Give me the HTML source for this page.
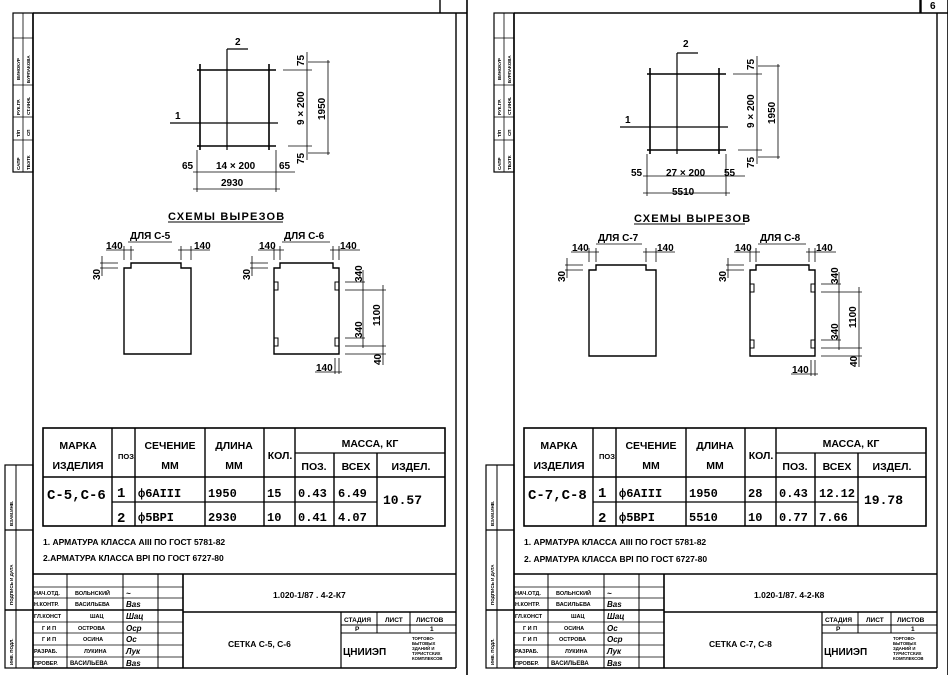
<!DOCTYPE html>
<html><head><meta charset="utf-8"><style>
html,body{margin:0;padding:0;background:#fff;width:948px;height:675px;overflow:hidden}
svg{display:block}
text{font-family:"Liberation Sans","DejaVu Sans",sans-serif;fill:#000;font-weight:bold}
.m{font-family:"Liberation Mono","DejaVu Sans Mono",monospace}
</style></head><body>
<svg width="948" height="675" viewBox="0 0 948 675" xmlns="http://www.w3.org/2000/svg">
<defs>
<g id="frame" stroke="#000" fill="none">
  <line x1="33" y1="13" x2="467" y2="13" stroke-width="1.6"/>
  <line x1="33" y1="13" x2="33" y2="668" stroke-width="1.6"/>
  <line x1="440" y1="0" x2="440" y2="13" stroke-width="1.4"/>
  <line x1="456" y1="13" x2="456" y2="668" stroke-width="1.4"/>
  <line x1="467" y1="0" x2="467" y2="675" stroke-width="1.6"/>
  <line x1="33" y1="668" x2="456" y2="668" stroke-width="1.4"/>
  <!-- top-left stamp -->
  <rect x="13" y="13" width="20" height="159" stroke-width="1.2"/>
  <line x1="23" y1="13" x2="23" y2="172" stroke-width="0.8"/>
  <line x1="13" y1="38" x2="33" y2="38" stroke-width="0.8"/>
  <line x1="13" y1="85" x2="33" y2="85" stroke-width="0.8"/>
  <line x1="13" y1="117" x2="33" y2="117" stroke-width="0.8"/>
  <line x1="13" y1="140" x2="33" y2="140" stroke-width="0.8"/>
  <!-- bottom-left strip -->
  <rect x="5" y="465" width="28" height="203" stroke-width="1.2"/>
  <line x1="16" y1="465" x2="16" y2="668" stroke-width="1"/>
  <line x1="5" y1="530" x2="33" y2="530" stroke-width="1.2"/>
  <line x1="5" y1="610" x2="183" y2="610" stroke-width="1.4"/>
  <!-- table -->
  <rect x="43" y="428" width="402" height="98" stroke-width="1.6"/>
  <line x1="43" y1="477" x2="445" y2="477" stroke-width="1.4"/>
  <line x1="112" y1="502" x2="377" y2="502" stroke-width="1.2"/>
  <line x1="295" y1="453" x2="445" y2="453" stroke-width="1.2"/>
  <line x1="112" y1="428" x2="112" y2="526" stroke-width="1.4"/>
  <line x1="135" y1="428" x2="135" y2="526" stroke-width="1.4"/>
  <line x1="205" y1="428" x2="205" y2="526" stroke-width="1.4"/>
  <line x1="264" y1="428" x2="264" y2="526" stroke-width="1.4"/>
  <line x1="295" y1="428" x2="295" y2="526" stroke-width="1.4"/>
  <line x1="334" y1="453" x2="334" y2="526" stroke-width="1.4"/>
  <line x1="377" y1="453" x2="377" y2="526" stroke-width="1.4"/>
  <!-- title block -->
  <line x1="33" y1="574" x2="456" y2="574" stroke-width="1.6"/>
  <line x1="183" y1="574" x2="183" y2="668" stroke-width="1.6"/>
  <line x1="67" y1="574" x2="67" y2="668" stroke-width="1"/>
  <line x1="123" y1="574" x2="123" y2="668" stroke-width="1"/>
  <line x1="158" y1="574" x2="158" y2="668" stroke-width="1"/>
  <g stroke-width="0.8">
  <line x1="33" y1="587" x2="183" y2="587"/>
  <line x1="33" y1="598" x2="183" y2="598"/>
  <line x1="33" y1="622" x2="183" y2="622"/>
  <line x1="33" y1="633" x2="183" y2="633"/>
  <line x1="33" y1="645" x2="183" y2="645"/>
  <line x1="33" y1="657" x2="183" y2="657"/>
  </g>
  <line x1="183" y1="612" x2="456" y2="612" stroke-width="1.4"/>
  <line x1="341" y1="612" x2="341" y2="668" stroke-width="1.2"/>
  <line x1="341" y1="625" x2="456" y2="625" stroke-width="1"/>
  <line x1="341" y1="633" x2="456" y2="633" stroke-width="1"/>
  <line x1="377" y1="612" x2="377" y2="633" stroke-width="1"/>
  <line x1="410" y1="612" x2="410" y2="633" stroke-width="1"/>
</g>
<g id="ftext">
  <g font-size="4.5">
  <text transform="translate(20,170) rotate(-90)">САПР</text>
  <text transform="translate(30,170) rotate(-90)">ТБЭТК</text>
  <text transform="translate(20,137) rotate(-90)">Т/П</text>
  <text transform="translate(30,136) rotate(-90)">СП</text>
  <text transform="translate(20,115) rotate(-90)">РУК.ГР.</text>
  <text transform="translate(30,115) rotate(-90)">СТ.ИНЖ.</text>
  <text transform="translate(20,80) rotate(-90)">ВИНОКУР</text>
  <text transform="translate(30,83) rotate(-90)">БУРЛАКОВА</text>
  <text transform="translate(13,526) rotate(-90)">ВЗАМ.ИНВ.</text>
  <text transform="translate(13,605) rotate(-90)">ПОДПИСЬ И ДАТА</text>
  <text transform="translate(13,665) rotate(-90)">ИНВ. ПОДЛ.</text>
  </g>
  <g font-size="10.5" text-anchor="middle">
  <text x="78" y="449">МАРКА</text>
  <text x="78" y="469">ИЗДЕЛИЯ</text>
  <text x="170" y="449">СЕЧЕНИЕ</text>
  <text x="170" y="469">ММ</text>
  <text x="234" y="449">ДЛИНА</text>
  <text x="234" y="469">ММ</text>
  <text x="280" y="459">КОЛ.</text>
  <text x="370" y="447">МАССА, КГ</text>
  <text x="314" y="470">ПОЗ.</text>
  <text x="356" y="470">ВСЕХ</text>
  <text x="411" y="470">ИЗДЕЛ.</text>
  </g>
  <text x="118" y="459" font-size="7.5">ПОЗ.</text>
  <g font-size="5.5">
  <text x="34" y="595">НАЧ.ОТД.</text>
  <text x="34" y="606">Н.КОНТР.</text>
  <text x="34" y="618">ГЛ.КОНСТ</text>
  <text x="42" y="630">Г И П</text>
  <text x="42" y="641">Г И П</text>
  <text x="34" y="653">РАЗРАБ.</text>
  <text x="34" y="665">ПРОВЕР.</text>
  <text x="344" y="622" font-size="6.5">СТАДИЯ</text>
  <text x="385" y="622" font-size="6.5">ЛИСТ</text>
  <text x="416" y="622" font-size="6.5">ЛИСТОВ</text>
  <text x="355" y="631" font-size="6.5">Р</text>
  <text x="430" y="631" font-size="6.5">1</text>
  <text x="412" y="640" font-size="4.3">ТОРГОВО-</text>
  <text x="412" y="645" font-size="4.3">БЫТОВЫХ</text>
  <text x="412" y="650" font-size="4.3">ЗДАНИЙ И</text>
  <text x="412" y="655" font-size="4.3">ТУРИСТСКИХ</text>
  <text x="412" y="660" font-size="4.3">КОМПЛЕКСОВ</text>
  </g>
  <text x="343" y="655" font-size="10" font-weight="normal">ЦНИИЭП</text>
</g>
<g id="mesh" stroke="#000" fill="none" stroke-width="1.2">
  <line x1="197" y1="70" x2="276" y2="70" stroke-width="1.6"/>
  <line x1="197" y1="146" x2="276" y2="146" stroke-width="1.6"/>
  <line x1="170" y1="123" x2="278" y2="123"/>
  <line x1="200" y1="64" x2="200" y2="150" stroke-width="1.6"/>
  <line x1="269" y1="64" x2="269" y2="150" stroke-width="1.6"/>
  <line x1="227" y1="49" x2="227" y2="150"/>
  <line x1="227" y1="49" x2="248" y2="49"/>
  <g stroke-width="0.8">
  <line x1="283" y1="70" x2="312" y2="70"/>
  <line x1="288" y1="146" x2="312" y2="146"/>
  <line x1="307" y1="52" x2="307" y2="160"/>
  <line x1="308" y1="62" x2="330" y2="62"/>
  <line x1="308" y1="153" x2="330" y2="153"/>
  <line x1="328" y1="60" x2="328" y2="155"/>
  <line x1="193" y1="172" x2="295" y2="172"/>
  <line x1="193" y1="189" x2="280" y2="189"/>
  <line x1="197" y1="150" x2="197" y2="192"/>
  <line x1="276" y1="150" x2="276" y2="192"/>
  </g>
</g>
<g id="cut" stroke="#000" fill="none" stroke-width="1.4">
  <path d="M124,268 L131,268 L131,263 L181,263 L181,268 L191,268 L191,354 L124,354 Z"/>
  <g stroke-width="0.8">
  <line x1="124" y1="246" x2="124" y2="260"/>
  <line x1="131" y1="246" x2="131" y2="260"/>
  <line x1="181" y1="246" x2="181" y2="260"/>
  <line x1="191" y1="246" x2="191" y2="260"/>
  <line x1="106" y1="250" x2="134" y2="250"/>
  <line x1="178" y1="250" x2="210" y2="250"/>
  <line x1="100" y1="263" x2="118" y2="263"/>
  <line x1="100" y1="268" x2="118" y2="268"/>
  <line x1="102" y1="256" x2="102" y2="276"/>
  </g>
</g>
<g id="cut2" stroke="#000" fill="none" stroke-width="1.4">
  <path d="M274,268 L280,268 L280,263 L333,263 L333,268 L339,268 L339,354 L274,354 Z"/>
  <rect x="274" y="282" width="4" height="8" stroke-width="1"/>
  <rect x="335" y="282" width="4" height="8" stroke-width="1"/>
  <rect x="274" y="338" width="4" height="8" stroke-width="1"/>
  <rect x="335" y="338" width="4" height="8" stroke-width="1"/>
  <g stroke-width="0.8">
  <line x1="274" y1="246" x2="274" y2="260"/>
  <line x1="280" y1="246" x2="280" y2="260"/>
  <line x1="333" y1="246" x2="333" y2="260"/>
  <line x1="339" y1="246" x2="339" y2="260"/>
  <line x1="258" y1="250" x2="284" y2="250"/>
  <line x1="330" y1="250" x2="360" y2="250"/>
  <line x1="250" y1="263" x2="268" y2="263"/>
  <line x1="250" y1="268" x2="268" y2="268"/>
  <line x1="252" y1="256" x2="252" y2="276"/>
  <line x1="345" y1="282" x2="365" y2="282"/>
  <line x1="345" y1="290" x2="386" y2="290"/>
  <line x1="345" y1="338" x2="365" y2="338"/>
  <line x1="345" y1="346" x2="386" y2="346"/>
  <line x1="345" y1="354" x2="386" y2="354"/>
  <line x1="363" y1="270" x2="363" y2="348"/>
  <line x1="383" y1="285" x2="383" y2="365"/>
  <line x1="335" y1="358" x2="335" y2="374"/>
  <line x1="339" y1="358" x2="339" y2="374"/>
  <line x1="315" y1="372" x2="342" y2="372"/>
  </g>
</g>
</defs>

<!-- LEFT SHEET -->
<use href="#frame"/>
<use href="#ftext"/>
<use href="#mesh"/>
<use href="#cut"/>
<use href="#cut2"/>
<g font-size="10">
<text x="175" y="119">1</text>
<text x="235" y="45">2</text>
<text transform="translate(304,66) rotate(-90)">75</text>
<text transform="translate(304,125) rotate(-90)">9 × 200</text>
<text transform="translate(325,120) rotate(-90)">1950</text>
<text transform="translate(304,164) rotate(-90)">75</text>
<text x="182" y="169">65</text>
<text x="216" y="169">14 × 200</text>
<text x="279" y="169">65</text>
<text x="221" y="186">2930</text>
<text x="168" y="220" font-size="11" letter-spacing="1.2">СХЕМЫ  ВЫРЕЗОВ</text>
<text x="130" y="239">ДЛЯ С-5</text>
<text x="106" y="249">140</text>
<text x="194" y="249">140</text>
<text transform="translate(100,280) rotate(-90)">30</text>
<text x="284" y="239">ДЛЯ С-6</text>
<text x="259" y="249">140</text>
<text x="340" y="249">140</text>
<text transform="translate(250,280) rotate(-90)">30</text>
<text transform="translate(362,282) rotate(-90)">340</text>
<text transform="translate(380,326) rotate(-90)">1100</text>
<text transform="translate(362,338) rotate(-90)">340</text>
<text transform="translate(381,365) rotate(-90)">40</text>
<text x="316" y="371">140</text>
</g>
<line x1="168" y1="222" x2="283" y2="222" stroke="#000" stroke-width="1"/>
<line x1="128" y1="242" x2="172" y2="242" stroke="#000" stroke-width="0.8"/>
<line x1="282" y1="242" x2="330" y2="242" stroke="#000" stroke-width="0.8"/>
<g class="m" font-size="12">
<text x="47" y="499" class="m" font-size="14">С-5,С-6</text>
<text x="117" y="497" class="m" font-size="14">1</text>
<text x="117" y="522" class="m" font-size="14">2</text>
<text x="138" y="497" class="m">ф6AIII</text>
<text x="138" y="521" class="m">ф5ВРI</text>
<text x="208" y="497" class="m">1950</text>
<text x="208" y="521" class="m">2930</text>
<text x="267" y="497" class="m">15</text>
<text x="267" y="521" class="m">10</text>
<text x="298" y="497" class="m">0.43</text>
<text x="298" y="521" class="m">0.41</text>
<text x="338" y="497" class="m">6.49</text>
<text x="338" y="521" class="m">4.07</text>
<text x="383" y="504" class="m" font-size="13">10.57</text>
</g>
<g font-size="8.5">
<text x="43" y="545">1. АРМАТУРА КЛАССА АIII  ПО ГОСТ 5781-82</text>
<text x="43" y="561">2.АРМАТУРА КЛАССА ВРI  ПО ГОСТ 6727-80</text>
<text x="273" y="598">1.020-1/87 . 4-2-К7</text>
<text x="228" y="647">СЕТКА С-5, С-6</text>
</g>
<g font-size="5.5">
<text x="75" y="595">ВОЛЬНСКИЙ</text>
<text x="75" y="606">ВАСИЛЬЕВА</text>
<text x="90" y="618">ШАЦ</text>
<text x="78" y="630">ОСТРОВА</text>
<text x="83" y="641">ОСИНА</text>
<text x="84" y="653">ЛУКИНА</text>
<text x="70" y="665" font-size="6">ВАСИЛЬЕВА</text>
</g>
<g font-family="Liberation Serif" font-style="italic" font-size="8" font-weight="normal">
<text x="126" y="596">~</text><text x="126" y="607">Bas</text><text x="126" y="619">Шац</text>
<text x="126" y="631">Оср</text><text x="126" y="642">Ос</text><text x="126" y="654">Лук</text><text x="126" y="666">Bas</text>
</g>

<!-- RIGHT SHEET -->
<g transform="translate(481,0)">
<use href="#frame"/>
<use href="#ftext"/>
</g>
<line x1="920" y1="0" x2="920" y2="13" stroke="#000" stroke-width="1.4"/>
<text x="930" y="9" font-size="10">6</text>
<g transform="translate(450,4)"><use href="#mesh"/></g>
<g transform="translate(465,2)"><use href="#cut"/></g>
<g transform="translate(476,2)"><use href="#cut2"/></g>
<g font-size="10">
<text x="625" y="123">1</text>
<text x="683" y="47">2</text>
<text transform="translate(754,70) rotate(-90)">75</text>
<text transform="translate(754,128) rotate(-90)">9 × 200</text>
<text transform="translate(775,124) rotate(-90)">1950</text>
<text transform="translate(754,168) rotate(-90)">75</text>
<text x="631" y="176">55</text>
<text x="666" y="176">27 × 200</text>
<text x="724" y="176">55</text>
<text x="672" y="195">5510</text>
<text x="634" y="222" font-size="11" letter-spacing="1.2">СХЕМЫ  ВЫРЕЗОВ</text>
<text x="598" y="241">ДЛЯ С-7</text>
<text x="572" y="251">140</text>
<text x="657" y="251">140</text>
<text transform="translate(565,282) rotate(-90)">30</text>
<text x="760" y="241">ДЛЯ С-8</text>
<text x="735" y="251">140</text>
<text x="816" y="251">140</text>
<text transform="translate(726,282) rotate(-90)">30</text>
<text transform="translate(838,284) rotate(-90)">340</text>
<text transform="translate(856,328) rotate(-90)">1100</text>
<text transform="translate(838,340) rotate(-90)">340</text>
<text transform="translate(857,367) rotate(-90)">40</text>
<text x="792" y="373">140</text>
</g>
<line x1="634" y1="224" x2="745" y2="224" stroke="#000" stroke-width="1"/>
<line x1="596" y1="244" x2="642" y2="244" stroke="#000" stroke-width="0.8"/>
<line x1="758" y1="244" x2="806" y2="244" stroke="#000" stroke-width="0.8"/>
<g class="m" font-size="12">
<text x="528" y="499" class="m" font-size="14">С-7,С-8</text>
<text x="598" y="497" class="m" font-size="14">1</text>
<text x="598" y="522" class="m" font-size="14">2</text>
<text x="619" y="497" class="m">ф6AIII</text>
<text x="619" y="521" class="m">ф5ВРI</text>
<text x="689" y="497" class="m">1950</text>
<text x="689" y="521" class="m">5510</text>
<text x="748" y="497" class="m">28</text>
<text x="748" y="521" class="m">10</text>
<text x="779" y="497" class="m">0.43</text>
<text x="779" y="521" class="m">0.77</text>
<text x="819" y="497" class="m">12.12</text>
<text x="819" y="521" class="m">7.66</text>
<text x="864" y="504" class="m" font-size="13">19.78</text>
</g>
<g font-size="8.5">
<text x="524" y="545">1. АРМАТУРА КЛАССА АIII  ПО ГОСТ 5781-82</text>
<text x="524" y="562">2. АРМАТУРА КЛАССА ВРI  ПО ГОСТ 6727-80</text>
<text x="754" y="598">1.020-1/87. 4-2-К8</text>
<text x="709" y="647">СЕТКА С-7, С-8</text>
</g>
<g font-size="5.5">
<text x="556" y="595">ВОЛЬНСКИЙ</text>
<text x="556" y="606">ВАСИЛЬЕВА</text>
<text x="571" y="618">ШАЦ</text>
<text x="564" y="630">ОСИНА</text>
<text x="559" y="641">ОСТРОВА</text>
<text x="565" y="653">ЛУКИНА</text>
<text x="551" y="665" font-size="6">ВАСИЛЬЕВА</text>
</g>
<g font-family="Liberation Serif" font-style="italic" font-size="8" font-weight="normal">
<text x="607" y="596">~</text><text x="607" y="607">Bas</text><text x="607" y="619">Шац</text>
<text x="607" y="631">Ос</text><text x="607" y="642">Оср</text><text x="607" y="654">Лук</text><text x="607" y="666">Bas</text>
</g>
</svg>
</body></html>
